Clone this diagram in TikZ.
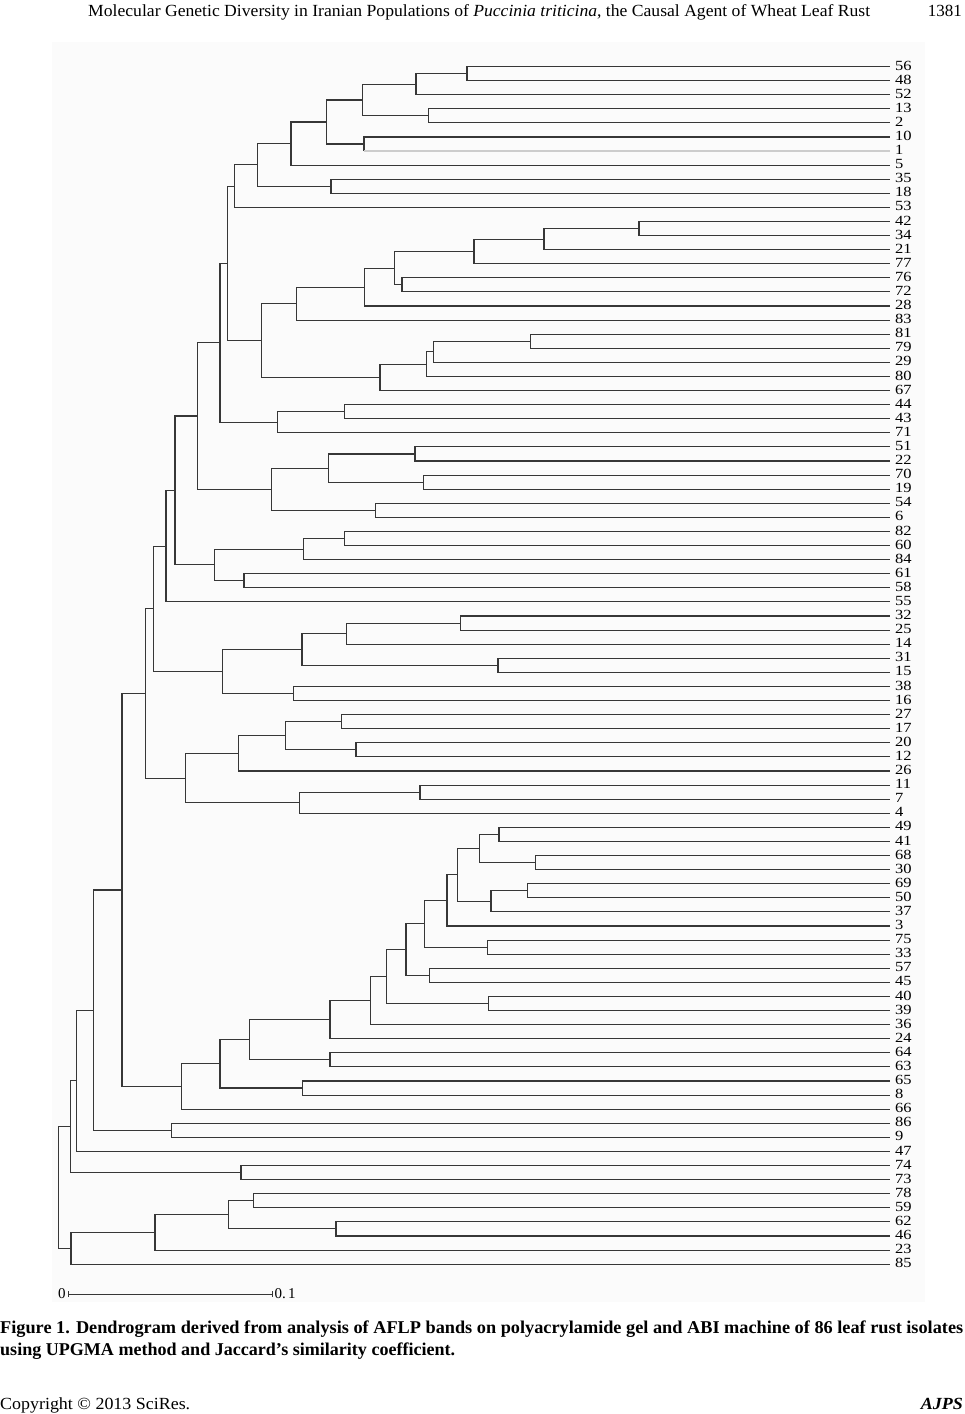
\documentclass[tikz,border=0pt]{standalone}
\usepackage{fontspec}
\setmainfont{Liberation Serif}
\usepackage{graphicx}
\usetikzlibrary{calc}
\definecolor{linecol}{RGB}{55,55,55}
\definecolor{faintcol}{RGB}{205,205,205}
\definecolor{panelcol}{RGB}{251,251,251}
\tikzset{
  branch/.style={draw=linecol, line width=1.1pt},
  faintbranch/.style={draw=faintcol, line width=1.1pt},
  lab/.style={anchor=west, inner sep=0pt, font=\fontsize{14}{15}\selectfont},
  txt/.style={inner sep=0pt},
}
\newcommand\mergeat[4]{%
  \path let \p1=(#3), \p2=(#4) in coordinate (#1) at (#2pt, {0.5*(\y1+\y2)});
  \draw[branch] (#1) |- (#3);
  \draw[branch] (#1) |- (#4);
}
\begin{document}
\begin{tikzpicture}[x=1pt,y=-1pt]
\useasboundingbox (0,0) rectangle (965,1414);
\fill[panelcol] (52,42) rectangle (925,1302);
% header
\node[txt, anchor=base west] (head) at (88,16) {\resizebox{782pt}{\height}{\fontsize{17}{20}\selectfont Molecular Genetic Diversity in Iranian Populations of \textit{Puccinia triticina}, the Causal Agent of Wheat Leaf Rust}};
\node[txt, anchor=base east] (page) at (962,16) {\fontsize{17}{20}\selectfont 1381};
% leaves
\foreach \n [count=\i] in {56,48,52,13,2,10,1,5,35,18,53,42,34,21,77,76,72,28,83,81,79,29,80,67,44,43,71,51,22,70,19,54,6,82,60,84,61,58,55,32,25,14,31,15,38,16,27,17,20,12,26,11,7,4,49,41,68,30,69,50,37,3,75,33,57,45,40,39,36,24,64,63,65,8,66,86,9,47,74,73,78,59,62,46,23,85}{
  \coordinate (L\n) at (890, {66.5+(\i-1)*14.09});
  \node[lab] (T\n) at (895, {65.5+(\i-1)*14.09}) {\scalebox{1.18}[1]{\n}};
}
% clusters
\mergeat{A1}{467}{L56}{L48}
\mergeat{A2}{416}{A1}{L52}
\mergeat{A3}{428.7}{L13}{L2}
\mergeat{A4}{362.7}{A2}{A3}
\path let \p1=(L10), \p2=(L1) in coordinate (A5) at (364pt, {0.5*(\y1+\y2)});
\draw[branch] (A5) |- (L10);
\coordinate (A5b) at (A5 |- L1);
\draw[branch] (A5) -- (A5b);
\draw[faintbranch] (A5b) -- (L1);
\mergeat{A6}{326.7}{A4}{A5}
\mergeat{A7}{291}{A6}{L5}
\mergeat{A8}{331}{L35}{L18}
\mergeat{A9}{257.3}{A7}{A8}
\mergeat{A10}{234.3}{A9}{L53}
\mergeat{B1}{639}{L42}{L34}
\mergeat{B2}{544}{B1}{L21}
\mergeat{B3}{474}{B2}{L77}
\mergeat{B4}{402}{L76}{L72}
\mergeat{B5}{394.7}{B3}{B4}
\mergeat{B6}{364.3}{B5}{L28}
\mergeat{B7}{296.7}{B6}{L83}
\mergeat{B8}{530.7}{L81}{L79}
\mergeat{B9}{433.3}{B8}{L29}
\mergeat{B10}{426.7}{B9}{L80}
\mergeat{B11}{380}{B10}{L67}
\mergeat{B12}{261.3}{B7}{B11}
\mergeat{B13}{227.3}{A10}{B12}
\mergeat{C1}{344.3}{L44}{L43}
\mergeat{C2}{277.7}{C1}{L71}
\mergeat{C3}{220}{B13}{C2}
\mergeat{C4}{415}{L51}{L22}
\mergeat{C5}{423.7}{L70}{L19}
\mergeat{C6}{328.7}{C4}{C5}
\mergeat{C7}{375.7}{L54}{L6}
\mergeat{C8}{271.3}{C6}{C7}
\mergeat{C9}{197.3}{C3}{C8}
\mergeat{D1}{344.3}{L82}{L60}
\mergeat{D2}{303.3}{D1}{L84}
\mergeat{D3}{244}{L61}{L58}
\mergeat{D4}{214.7}{D2}{D3}
\mergeat{D5}{175}{C9}{D4}
\mergeat{D6}{166}{D5}{L55}
\mergeat{E1}{460.7}{L32}{L25}
\mergeat{E2}{346.7}{E1}{L14}
\mergeat{E3}{498}{L31}{L15}
\mergeat{E4}{302}{E2}{E3}
\mergeat{E5}{293.3}{L38}{L16}
\mergeat{E6}{222.7}{E4}{E5}
\mergeat{E7}{153.3}{D6}{E6}
\mergeat{F1}{341.7}{L27}{L17}
\mergeat{F2}{356}{L20}{L12}
\mergeat{F3}{285.3}{F1}{F2}
\mergeat{F4}{238.3}{F3}{L26}
\mergeat{F5}{420}{L11}{L7}
\mergeat{F6}{299.7}{F5}{L4}
\mergeat{F7}{185.7}{F4}{F6}
\mergeat{F8}{145.3}{E7}{F7}
\mergeat{G1}{499}{L49}{L41}
\mergeat{G2}{535.3}{L68}{L30}
\mergeat{G3}{479.7}{G1}{G2}
\mergeat{G4}{527.3}{L69}{L50}
\mergeat{G5}{491}{G4}{L37}
\mergeat{G6}{457.7}{G3}{G5}
\mergeat{G7}{447}{G6}{L3}
\mergeat{G8}{487.3}{L75}{L33}
\mergeat{G9}{424.3}{G7}{G8}
\mergeat{G10}{429.3}{L57}{L45}
\mergeat{G11}{406}{G9}{G10}
\mergeat{G12}{488.3}{L40}{L39}
\mergeat{G13}{386.7}{G11}{G12}
\mergeat{G14}{370.7}{G13}{L36}
\mergeat{G15}{330}{G14}{L24}
\mergeat{G16}{330}{L64}{L63}
\mergeat{G17}{249.3}{G15}{G16}
\mergeat{G18}{302.7}{L65}{L8}
\mergeat{G19}{220}{G17}{G18}
\mergeat{G20}{181.7}{G19}{L66}
\mergeat{H1}{122}{F8}{G20}
\mergeat{H2}{171.7}{L86}{L9}
\mergeat{H3}{93.7}{H1}{H2}
\mergeat{H4}{76.7}{H3}{L47}
\mergeat{H5}{241}{L74}{L73}
\mergeat{H6}{70.7}{H4}{H5}
\mergeat{J1}{253.7}{L78}{L59}
\mergeat{J2}{336}{L62}{L46}
\mergeat{J3}{228.7}{J1}{J2}
\mergeat{J4}{155}{J3}{L23}
\mergeat{J5}{71}{J4}{L85}
\mergeat{R}{58.3}{H6}{J5}
% scale bar
\coordinate (s0) at (68.7,1294);
\coordinate (s1) at (272.3,1294);
\draw[linecol, line width=0.9pt] (s0) -- (s1);
\draw[linecol, line width=0.9pt] ([yshift=3pt]s0) -- ([yshift=-3pt]s0);
\draw[linecol, line width=0.9pt] ([yshift=3pt]s1) -- ([yshift=-3pt]s1);
\node[txt, anchor=east, font=\fontsize{15}{16}\selectfont] (z0) at ([xshift=-3pt]s0) {0};
\node[txt, anchor=west, font=\fontsize{15}{16}\selectfont] (z1) at ([xshift=2pt]s1) {0.\,1};
% caption
\node[txt, anchor=base west] (cap1) at (0,1333) {\resizebox{963pt}{\height}{\bfseries\fontsize{18}{22}\selectfont Figure 1. Dendrogram derived from analysis of AFLP bands on polyacrylamide gel and ABI machine of 86 leaf rust isolates}};
\node[txt, anchor=base west] (cap2) at (0,1355) {\resizebox{455pt}{\height}{\bfseries\fontsize{18}{22}\selectfont using UPGMA method and Jaccard’s similarity coefficient.}};
% footer
\node[txt, anchor=base west] (copy) at (0,1409) {\resizebox{190pt}{\height}{\fontsize{17}{20}\selectfont Copyright © 2013 SciRes.}};
\node[txt, anchor=base east] (jour) at (963,1409) {\resizebox{42pt}{\height}{\bfseries\itshape\fontsize{17}{20}\selectfont AJPS}};
\end{tikzpicture}
\end{document}
